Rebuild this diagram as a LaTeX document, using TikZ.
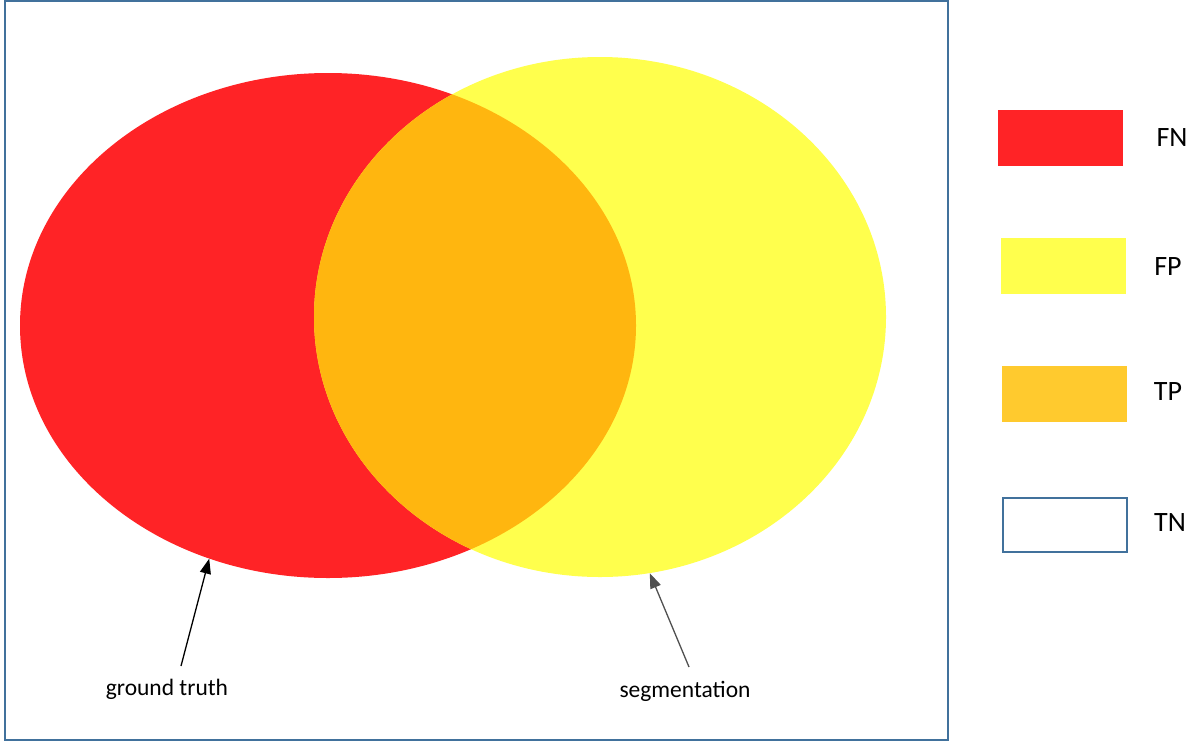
\documentclass[tikz,border=0pt]{standalone}
\usepackage{fontspec}
\setmainfont{Carlito}
\usetikzlibrary{shapes.geometric,arrows.meta}
\definecolor{fnred}{RGB}{255,35,38}
\definecolor{fpyellow}{RGB}{255,255,77}
\definecolor{overlap}{RGB}{255,182,15}
\definecolor{tporange}{RGB}{255,202,46}
\definecolor{framebl}{RGB}{65,113,156}
\definecolor{arrgrey}{RGB}{80,80,80}
\tikzset{
  blob/.style={ellipse, draw=none, inner sep=0pt},
  legbox/.style={rectangle, minimum width=125pt, minimum height=56pt, inner sep=0pt},
  legtext/.style={font=\fontsize{28}{34}\selectfont, inner sep=0pt},
  lbl/.style={font=\fontsize{23.5}{28}\selectfont, inner sep=1pt},
  pointer/.style={-{Triangle[length=15pt,width=11pt]}, line width=1.3pt},
}
\begin{document}
\begin{tikzpicture}[x=1pt,y=-1pt]
\useasboundingbox (0,0) rectangle (1196,742);
\fill[white] (0,0) rectangle (1196,742);
% frame
\draw[framebl, line width=2pt] (5,1) rectangle (948,740);
% ellipses
\node[blob, fill=fnred, minimum width=616pt, minimum height=505pt] (gt) at (328,325.5) {};
\node[blob, fill=fpyellow, minimum width=572pt, minimum height=520pt] (seg) at (600,317) {};
\begin{scope}
  \clip (328,325.5) ellipse [x radius=308, y radius=252.5];
  \fill[overlap] (600,317) ellipse [x radius=286, y radius=260];
\end{scope}
% labels and pointers
\node[lbl] (gtl) at (167,689) {ground truth};
\node[lbl] (segl) at (685,691) {segmentation};
\coordinate (gts) at (181,666);
\coordinate (segs) at (689,667);
\draw[pointer, black] (gts) -- (gt.243.7);
\draw[pointer, arrgrey] (segs) -- (seg.-79.4);
% legend
\node[legbox, fill=fnred] (fnbox) at (1060.5,138) {};
\node[legbox, fill=fpyellow] (fpbox) at (1063,266) {};
\node[legbox, fill=tporange] (tpbox) at (1064,394) {};
\node[legbox, draw=framebl, line width=2pt, fill=white, minimum width=124pt, minimum height=54pt] (tnbox) at (1065,525) {};
\node[legtext] (fnl) at (1172,138) {FN};
\node[legtext] (fpl) at (1168,267) {FP};
\node[legtext] (tpl) at (1168,392) {TP};
\node[legtext] (tnl) at (1170,523) {TN};
\end{tikzpicture}
\end{document}
